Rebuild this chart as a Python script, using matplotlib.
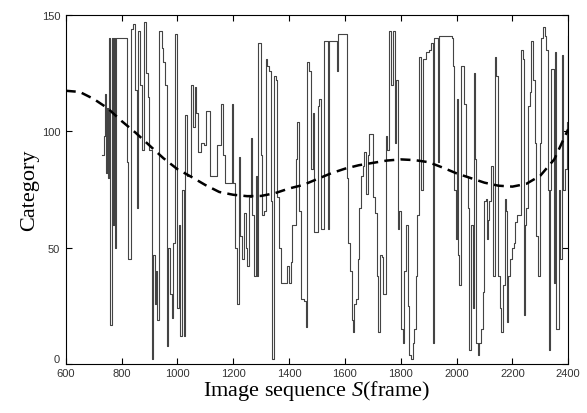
import matplotlib
matplotlib.use("Agg")
import matplotlib.pyplot as plt

plt.rcParams['mathtext.fontset'] = 'custom'
plt.rcParams['mathtext.rm'] = 'Liberation Serif'
plt.rcParams['mathtext.it'] = 'Liberation Serif:italic'

# Solid trace: frame index and category (step-like)
frames = [730, 736, 740, 744, 748, 752, 756, 760, 764, 768, 772, 776, 780, 818, 824, 832, 840, 848, 854, 860,
          866, 872, 880, 888, 894, 900, 908, 914, 920, 924, 928, 934, 944, 950, 956, 962, 968, 974, 980, 986,
          992, 998, 1004, 1008, 1016, 1022, 1028, 1034, 1050, 1056, 1062, 1068, 1074, 1086, 1096, 1104, 1116, 1142, 1156, 1164,
          1170, 1194, 1200, 1208, 1214, 1220, 1226, 1232, 1238, 1244, 1250, 1256, 1262, 1268, 1274, 1280, 1286, 1290, 1298, 1302,
          1310, 1316, 1322, 1328, 1334, 1338, 1346, 1354, 1358, 1364, 1370, 1394, 1400, 1406, 1412, 1424, 1430, 1434, 1442, 1454,
          1460, 1466, 1472, 1478, 1484, 1490, 1502, 1508, 1514, 1526, 1538, 1540, 1544, 1570, 1576, 1606, 1612, 1618, 1624, 1630,
          1634, 1640, 1646, 1652, 1658, 1664, 1670, 1676, 1682, 1688, 1702, 1708, 1714, 1720, 1726, 1732, 1738, 1746, 1752, 1758,
          1766, 1772, 1778, 1783, 1789, 1795, 1801, 1807, 1813, 1819, 1825, 1831, 1837, 1843, 1849, 1855, 1860, 1864, 1870, 1874,
          1880, 1890, 1900, 1908, 1914, 1920, 1926, 1932, 1936, 1976, 1982, 1986, 1992, 1998, 2002, 2006, 2010, 2016, 2024, 2028,
          2034, 2040, 2046, 2052, 2058, 2062, 2066, 2070, 2076, 2082, 2088, 2094, 2100, 2104, 2108, 2112, 2118, 2124, 2130, 2136,
          2142, 2148, 2154, 2160, 2166, 2172, 2176, 2180, 2186, 2192, 2198, 2204, 2210, 2216, 2226, 2232, 2238, 2242, 2246, 2250,
          2256, 2262, 2268, 2274, 2280, 2286, 2292, 2298, 2304, 2310, 2318, 2322, 2326, 2330, 2334, 2340, 2346, 2350, 2354, 2358,
          2364, 2368, 2372, 2376, 2380, 2388, 2394, 2398, 2400]
category = [90, 98, 116, 82, 110, 80, 140, 17, 140, 60, 140, 50, 140, 87, 45, 144, 146, 118, 67, 143,
            120, 92, 147, 125, 115, 92, 2, 47, 26, 40, 19, 143, 136, 130, 120, 8, 50, 30, 20, 52,
            142, 24, 60, 12, 75, 12, 107, 81, 120, 102, 119, 108, 91, 95, 94, 109, 81, 94, 112, 90,
            78, 112, 78, 50, 26, 89, 55, 45, 65, 50, 42, 72, 97, 64, 38, 81, 38, 138, 90, 64,
            66, 131, 128, 126, 70, 2, 124, 122, 72, 50, 35, 42, 35, 44, 60, 88, 104, 66, 28, 27,
            16, 130, 126, 84, 108, 57, 111, 114, 58, 139, 118, 58, 139, 126, 142, 80, 52, 40, 19, 14,
            26, 28, 45, 67, 81, 85, 91, 73, 90, 99, 72, 65, 38, 14, 47, 46, 30, 98, 92, 143,
            120, 143, 95, 122, 58, 66, 15, 9, 40, 60, 25, 4, 2, 9, 15, 38, 64, 132, 132, 75,
            131, 134, 135, 138, 9, 140, 140, 87, 141, 141, 140, 128, 75, 54, 114, 47, 34, 128, 128, 112,
            81, 67, 6, 60, 24, 125, 88, 9, 4, 9, 15, 31, 70, 71, 54, 62, 70, 85, 38, 132,
            124, 38, 24, 14, 34, 71, 66, 18, 38, 45, 50, 52, 61, 64, 64, 135, 131, 21, 60, 67,
            111, 117, 139, 122, 95, 55, 38, 95, 140, 145, 141, 135, 75, 6, 75, 127, 127, 35, 134, 15,
            15, 75, 45, 133, 75, 84, 104, 75, 141]

# Dashed trend curve
trend_frames = [600, 650, 700, 750, 800, 850, 900, 950, 1000, 1050, 1100, 1150, 1200, 1250, 1300, 1350,
                1400, 1450, 1500, 1550, 1600, 1650, 1700, 1750, 1800, 1850, 1900, 1950, 2000, 2050,
                2100, 2150, 2200, 2250, 2300, 2350, 2400]
trend_values = [117.5, 117, 114, 110, 104.5, 99.5, 94, 88.5, 83.8, 80.5, 77, 74, 72.8, 72.2, 72.3, 73.5,
                75.5, 77, 79.5, 82, 84, 85.5, 86.5, 87.5, 88, 87.7, 86.8, 84.5, 82, 80,
                78, 76.7, 76.3, 77.5, 81, 88, 101]

x_ticks = [600, 800, 1000, 1200, 1400, 1600, 1800, 2000, 2200, 2400]
y_ticks = [0, 50, 100, 150]

fig = plt.figure(figsize=(5.87, 4.14), dpi=100)
ax = fig.add_axes([0.112, 0.118, 0.856, 0.843])

ax.plot(frames, category, drawstyle='steps-post', color='#444444', linewidth=0.8)
ax.plot(trend_frames, trend_values, color='black', linewidth=1.8, linestyle=(0, (4, 2.5)))

ax.set_xlim(600, 2400)
ax.set_ylim(0, 150)
ax.set_xticks(x_ticks)
ax.set_yticks(y_ticks)
ax.tick_params(direction='in', top=True, right=True, length=4, width=0.8,
               labelsize=8, labelcolor='#333333')
ax.tick_params(axis='x', pad=3)
ax.tick_params(axis='y', pad=4)
fig.canvas.draw()
for lab in ax.get_xticklabels() + ax.get_yticklabels():
    lab.set_family('Liberation Sans')
ax.get_yticklabels()[0].set_va('bottom')
for s in ax.spines.values():
    s.set_linewidth(0.8)

ax.set_xlabel(r'Image sequence $\mathit{S}$(frame)', fontsize=16, family='Liberation Serif', labelpad=0)
ax.set_ylabel('Category', fontsize=16, family='Liberation Serif', labelpad=2)

fig.savefig('out.png', dpi=100)
